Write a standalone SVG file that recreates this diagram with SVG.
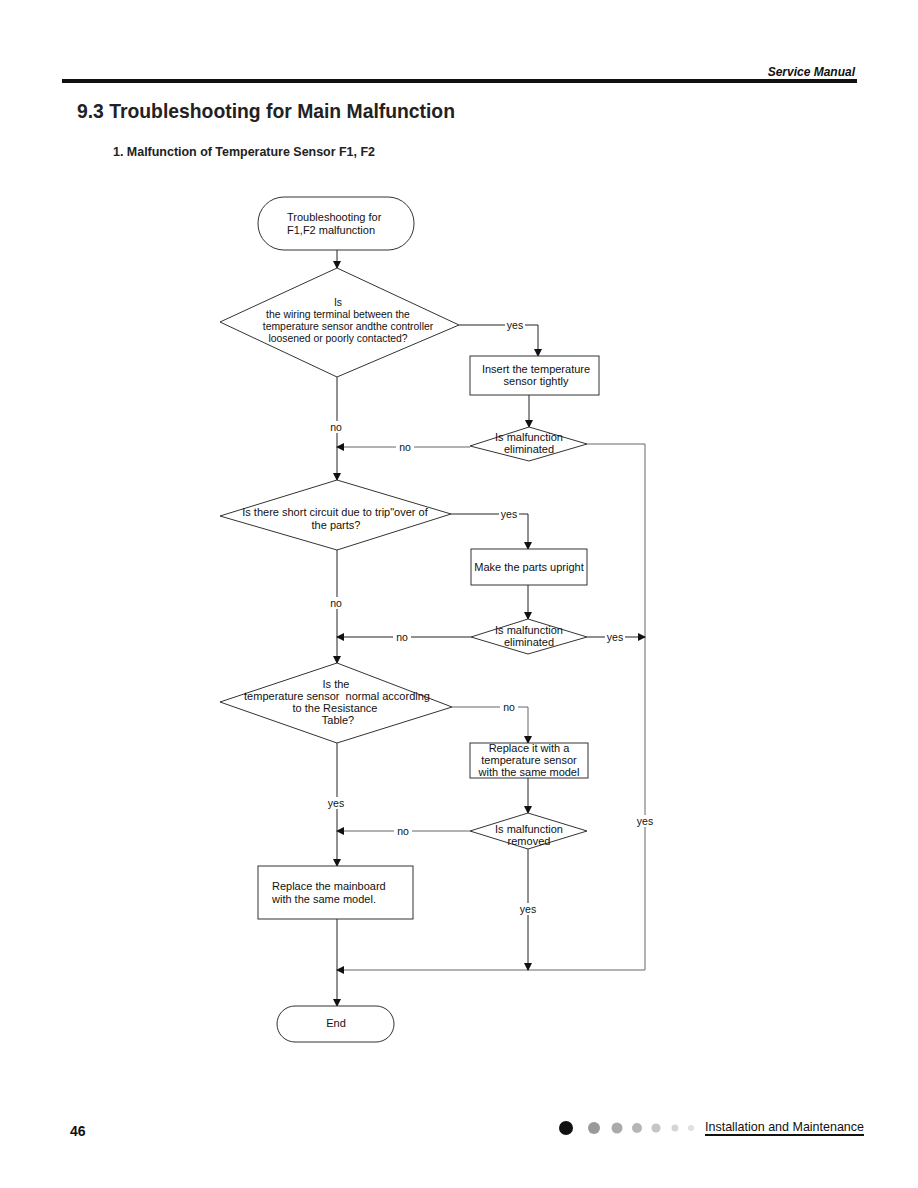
<svg xmlns="http://www.w3.org/2000/svg" width="918" height="1188" viewBox="0 0 918 1188">
<defs>
<style>
.t{font-family:"Liberation Sans",Arial,sans-serif;font-size:11px;fill:#111;text-anchor:middle}
.t1{font-family:"Liberation Sans",Arial,sans-serif;font-size:10.4px;fill:#111;text-anchor:middle}
.tl{font-family:"Liberation Sans",Arial,sans-serif;font-size:11px;fill:#111}
.shape{fill:#fff;stroke:#333;stroke-width:1}
.ln{fill:none;stroke:#222;stroke-width:1}
.lg{fill:none;stroke:#666;stroke-width:1}
.lbl{font-family:"Liberation Sans",Arial,sans-serif;font-size:10.5px;fill:#111;text-anchor:middle}
</style>
<marker id="ah" markerWidth="8" markerHeight="8" refX="7" refY="4" orient="auto" markerUnits="userSpaceOnUse">
<path d="M0,0 L8,4 L0,8 Z" fill="#111"/>
</marker>
</defs>
<rect width="918" height="1188" fill="#fff"/>

<g id="header">
<text x="855" y="76" font-family="Liberation Sans,Arial,sans-serif" font-size="12" font-weight="bold" font-style="italic" text-anchor="end" fill="#111">Service Manual</text>
<rect x="62" y="79" width="795" height="4" fill="#111"/>
<text x="77" y="118" font-family="Liberation Sans,Arial,sans-serif" font-size="21" font-weight="bold" fill="#222" textLength="378" lengthAdjust="spacingAndGlyphs">9.3 Troubleshooting for Main Malfunction</text>
<text x="113" y="156" font-family="Liberation Sans,Arial,sans-serif" font-size="12" font-weight="bold" fill="#222" textLength="262" lengthAdjust="spacingAndGlyphs">1. Malfunction of Temperature Sensor F1, F2</text>
</g>

<g id="connectors">
<line class="ln" x1="337" y1="250" x2="337" y2="268" marker-end="url(#ah)"/>
<polyline class="ln" points="459,325 538,325 538,356" marker-end="url(#ah)"/>
<line class="ln" x1="529" y1="395" x2="529" y2="427" marker-end="url(#ah)"/>
<line class="ln" x1="337" y1="377" x2="337" y2="480" marker-end="url(#ah)"/>
<line class="lg" x1="470" y1="447" x2="337" y2="447" marker-end="url(#ah)"/>
<polyline class="lg" points="587,444 645,444 645,970 337,970" marker-end="url(#ah)"/>
<polyline class="ln" points="451,514 528,514 528,549" marker-end="url(#ah)"/>
<line class="ln" x1="528" y1="585" x2="528" y2="619" marker-end="url(#ah)"/>
<line class="ln" x1="337" y1="550" x2="337" y2="663" marker-end="url(#ah)"/>
<line class="ln" x1="471" y1="637" x2="337" y2="637" marker-end="url(#ah)"/>
<line class="ln" x1="587" y1="637" x2="645" y2="637" marker-end="url(#ah)"/>
<polyline class="lg" points="452,707 528,707 528,743" marker-end="url(#ah)"/>
<line class="ln" x1="528" y1="778" x2="528" y2="813" marker-end="url(#ah)"/>
<line class="lg" x1="470" y1="831" x2="337" y2="831" marker-end="url(#ah)"/>
<line class="ln" x1="337" y1="743" x2="337" y2="866" marker-end="url(#ah)"/>
<line class="ln" x1="528" y1="849" x2="528" y2="970" marker-end="url(#ah)"/>
<line class="ln" x1="337" y1="919" x2="337" y2="1006" marker-end="url(#ah)"/>
<g>
<rect x="505" y="319" width="20" height="12" fill="#fff"/><text class="lbl" x="515" y="329">yes</text>
<rect x="396" y="441" width="18" height="12" fill="#fff"/><text class="lbl" x="405" y="451">no</text>
<rect x="326" y="421" width="20" height="12" fill="#fff"/><text class="lbl" x="336" y="431">no</text>
<rect x="499" y="508" width="20" height="12" fill="#fff"/><text class="lbl" x="509" y="518">yes</text>
<rect x="326" y="597" width="20" height="12" fill="#fff"/><text class="lbl" x="336" y="607">no</text>
<rect x="393" y="631" width="18" height="12" fill="#fff"/><text class="lbl" x="402" y="641">no</text>
<rect x="605" y="631" width="20" height="12" fill="#fff"/><text class="lbl" x="615" y="641">yes</text>
<rect x="500" y="701" width="18" height="12" fill="#fff"/><text class="lbl" x="509" y="711">no</text>
<rect x="326" y="797" width="20" height="12" fill="#fff"/><text class="lbl" x="336" y="807">yes</text>
<rect x="394" y="825" width="18" height="12" fill="#fff"/><text class="lbl" x="403" y="835">no</text>
<rect x="635" y="815" width="20" height="12" fill="#fff"/><text class="lbl" x="645" y="825">yes</text>
<rect x="518" y="903" width="20" height="12" fill="#fff"/><text class="lbl" x="528" y="913">yes</text>
</g>
</g>

<g id="start">
<rect class="shape" x="258" y="197" width="156" height="53" rx="26" ry="26"/>
<text class="tl" x="287" y="221">Troubleshooting for</text>
<text class="tl" x="287" y="234">F1,F2 malfunction</text>
</g>

<g id="d1">
<polygon class="shape" points="337,268 459,325 337,377 220,322"/>
<text class="t1" x="338" y="306">Is</text>
<text class="t1" x="338" y="318">the wiring terminal between the</text>
<text class="t1" x="348" y="330">temperature sensor andthe controller</text>
<text class="t1" x="338" y="342">loosened or poorly contacted?</text>
</g>

<g id="b1">
<rect class="shape" x="470" y="356" width="129" height="39"/>
<text class="t" x="536" y="373">Insert the temperature</text>
<text class="t" x="536" y="385">sensor tightly</text>
</g>

<g id="d2">
<polygon class="shape" points="529,427 587,444 529,461 470,446"/>
<text class="t" x="529" y="441">Is malfunction</text>
<text class="t" x="529" y="453">eliminated</text>
</g>

<g id="d3">
<polygon class="shape" points="337,480 451,514 337,550 220,516"/>
<text class="t" x="335" y="516">Is there short circuit due to trip"over of</text>
<text class="t" x="336" y="529">the parts?</text>
</g>

<g id="b2">
<rect class="shape" x="471" y="549" width="116" height="36"/>
<text class="t" x="529" y="571">Make the parts upright</text>
</g>

<g id="d4">
<polygon class="shape" points="528,619 587,637 528,654 471,637"/>
<text class="t" x="529" y="634">Is malfunction</text>
<text class="t" x="529" y="646">eliminated</text>
</g>

<g id="d5">
<polygon class="shape" points="337,663 452,707 337,743 220,702"/>
<text class="t" x="336" y="688">Is the</text>
<text class="t" x="337" y="700" xml:space="preserve">temperature sensor  normal according</text>
<text class="t" x="335" y="712">to the Resistance</text>
<text class="t" x="338" y="724">Table?</text>
</g>

<g id="b3">
<rect class="shape" x="470" y="743" width="118" height="35"/>
<text class="t" x="529" y="752">Replace it with a</text>
<text class="t" x="529" y="764">temperature sensor</text>
<text class="t" x="529" y="776">with the same model</text>
</g>

<g id="d6">
<polygon class="shape" points="528,813 587,831 528,849 470,831"/>
<text class="t" x="529" y="833">Is malfunction</text>
<text class="t" x="529" y="845">removed</text>
</g>

<g id="b4">
<rect class="shape" x="258" y="866" width="155" height="53"/>
<text class="tl" x="272" y="890">Replace the mainboard</text>
<text class="tl" x="272" y="903">with the same model.</text>
</g>

<g id="end">
<rect class="shape" x="277" y="1006" width="117" height="36" rx="18" ry="18"/>
<text class="t" x="336" y="1027">End</text>
</g>

<g id="footer">
<text x="70" y="1136" font-family="Liberation Sans,Arial,sans-serif" font-size="14" font-weight="bold" fill="#111">46</text>
<circle cx="566" cy="1128" r="7" fill="#111"/>
<circle cx="594" cy="1128" r="6" fill="#999"/>
<circle cx="617" cy="1128" r="5.5" fill="#aaa"/>
<circle cx="637" cy="1128" r="5" fill="#b5b5b5"/>
<circle cx="656" cy="1128" r="4.5" fill="#c5c5c5"/>
<circle cx="675" cy="1128" r="3.5" fill="#d5d5d5"/>
<circle cx="691" cy="1128" r="3" fill="#e0e0e0"/>
<text x="705" y="1131" font-family="Liberation Sans,Arial,sans-serif" font-size="13" fill="#111" textLength="159" lengthAdjust="spacingAndGlyphs">Installation and Maintenance</text>
<rect x="705" y="1134" width="159" height="2" fill="#111"/>
</g>
</svg>
